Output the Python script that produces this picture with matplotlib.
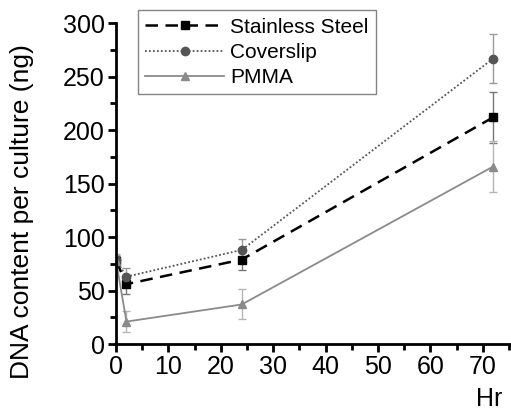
import matplotlib.pyplot as plt
from matplotlib.ticker import MultipleLocator

plt.rcParams["font.family"] = ["Liberation Sans", "DejaVu Sans"]

# Data
hours = [0, 2, 24, 72]
steel = [78, 56, 79, 212]
steel_err = [4, 9, 10, 24]
coverslip = [79, 63, 88, 267]
coverslip_err = [4, 8, 10, 23]
pmma = [78, 21, 37, 166]
pmma_err = [6, 10, 14, 24]

fig = plt.figure(figsize=(5.11, 4.15), dpi=100)
ax = fig.add_axes([0.227, 0.171, 0.773, 0.773])

# Stainless steel
c1 = ax.errorbar(hours, steel, yerr=steel_err, color="black", ecolor="#777777",
                 linestyle=(0, (5, 3)), linewidth=1.8, marker="s",
                 markersize=6, capsize=3, elinewidth=1)
# Coverslip
c2 = ax.errorbar(hours, coverslip, yerr=coverslip_err, color="#555555",
                 ecolor="#999999", linestyle=(0, (1, 1.2)), linewidth=1.3,
                 marker="o", markersize=6, capsize=3, elinewidth=1)
# PMMA
c3 = ax.errorbar(hours, pmma, yerr=pmma_err, color="#8a8a8a", ecolor="#b5b5b5",
                 linestyle="-", linewidth=1.3, marker="^", markersize=6,
                 capsize=3, elinewidth=1)

ax.set_xlim(0, 75.4)
ax.set_ylim(0, 300)
ax.xaxis.set_major_locator(MultipleLocator(10))
ax.xaxis.set_minor_locator(MultipleLocator(5))
ax.yaxis.set_major_locator(MultipleLocator(50))
ax.yaxis.set_minor_locator(MultipleLocator(25))

for side in ["top", "right"]:
    ax.spines[side].set_visible(False)
for side in ["left", "bottom"]:
    ax.spines[side].set_linewidth(2)

ax.tick_params(which="major", direction="out", length=6, width=2,
               labelsize=18, pad=2)
ax.tick_params(which="minor", direction="out", length=4, width=2)

fig.text(0.043, 0.49, "DNA content per culture (ng)", fontsize=19,
         rotation=90, ha="center", va="center")
fig.text(0.958, 0.038, "Hr", fontsize=18, ha="center", va="center")

leg = ax.legend([c1.lines[0], c2.lines[0], c3.lines[0]],
                ["Stainless Steel", "Coverslip", "PMMA"],
                loc="upper left", bbox_to_anchor=(0.055, 1.04),
                fontsize=15, frameon=True, fancybox=False,
                handlelength=3.8, borderpad=0.35, labelspacing=0.3,
                handletextpad=0.3, borderaxespad=0)
leg.get_frame().set_edgecolor("#666666")
leg.get_frame().set_linewidth(1)

fig.savefig("out.png", dpi=100)
